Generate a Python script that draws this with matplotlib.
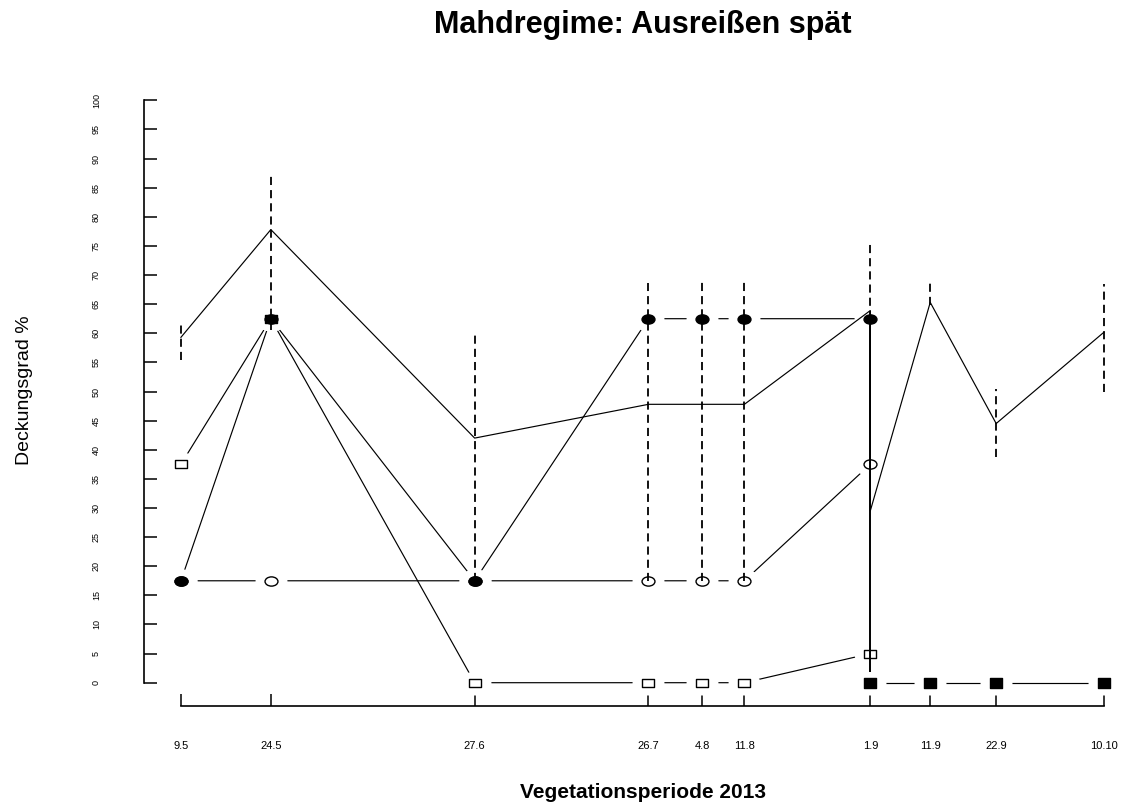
import numpy as np
import matplotlib
matplotlib.use("Agg")
import matplotlib.pyplot as plt
from matplotlib.path import Path
from matplotlib.transforms import Affine2D

plt.rcParams["font.family"] = ["Liberation Sans", "DejaVu Sans"]

# sampling dates (label) and day of year used as x position
date_labels = ["9.5", "24.5", "27.6", "26.7", "4.8", "11.8", "1.9", "11.9", "22.9", "10.10"]
doy = [129, 144, 178, 207, 216, 223, 244, 254, 265, 283]

# mean cover line (1.9 occurs twice in the data)
mean_x = [129, 144, 178, 207, 216, 223, 244, 244, 254, 265, 283]
mean_y = [59.3, 77.8, 42.0, 47.8, 47.8, 47.8, 63.9, 29.5, 65.3, 44.5, 60.2]

# dashed ranges per date
err_lo = [55.4, 60.5, 17.5, 17.5, 17.5, 17.5, 62.5, 64.8, 38.7, 49.9]
err_hi = [61.8, 87.7, 59.8, 68.6, 69.2, 69.2, 75.4, 68.8, 50.5, 68.5]
# solid range at 1.9
solid_x = 244
solid_lo, solid_hi = 1.8, 62.5

# single quadrats
plot_x = doy[:7]
open_circles = [17.5, 17.5, 17.5, 17.5, 17.5, 17.5, 37.5]
open_squares = [37.5, 62.5, 0, 0, 0, 0, 5]
filled_circles = [17.5, 62.5, 17.5, 62.5, 62.5, 62.5, 62.5]
late_x = doy[6:]
filled_squares = [0, 0, 0, 0]


def ellipse(aspect):
    return Path.unit_circle().transformed(Affine2D().scale(aspect, 1))


rect = Path([(-1.4, -1), (1.4, -1), (1.4, 1), (-1.4, 1), (-1.4, -1)], closed=True)
oval = ellipse(1.4)
halo = ellipse(1.33)

fig = plt.figure(figsize=(11.23, 8.05), dpi=100)
ax = fig.add_axes([144 / 1123, 99 / 805, 997 / 1123, 629 / 805])

pad = 0.04 * (doy[-1] - doy[0])
ax.set_xlim(doy[0] - pad, doy[-1] + pad)
ax.set_ylim(-4, 104)


def series(x, y, marker, ms, filled):
    # R type "b": lines stop short of the points
    ax.plot(x, y, color="black", lw=0.85, zorder=2)
    ax.plot(x, y, ls="none", marker=halo, ms=23, mfc="white", mec="none", zorder=3)
    ax.plot(x, y, ls="none", marker=marker, ms=ms,
            mfc="black" if filled else "none", mec="black", mew=1.0, zorder=5)


series(plot_x, open_circles, oval, 9.3, False)
series(plot_x, open_squares, rect, 8.8, False)
series(plot_x, filled_circles, oval, 9.3, True)
series(late_x, filled_squares, rect, 9.2, True)

ax.plot(mean_x, mean_y, color="black", lw=0.85, zorder=4)
ax.vlines(doy, err_lo, err_hi, colors="black", lw=1.3, linestyles=(0, (4.5, 2.8)), zorder=4)
ax.vlines(solid_x, solid_lo, solid_hi, colors="black", lw=1.4, zorder=4)

for s in ["top", "right"]:
    ax.spines[s].set_visible(False)
ax.spines["left"].set_bounds(0, 100)
ax.spines["bottom"].set_bounds(doy[0], doy[-1])
ax.spines["left"].set_linewidth(1.2)
ax.spines["bottom"].set_linewidth(1.2)

ax.set_xticks(doy)
ax.set_xticklabels(date_labels, fontsize=8)
yt = np.arange(0, 101, 5)
ax.set_yticks(yt)
ax.set_yticklabels([str(v) for v in yt], rotation=90, va="center", fontsize=6.5)
ax.tick_params(axis="both", direction="in", length=9, width=1.1)
ax.tick_params(axis="x", pad=25)
ax.tick_params(axis="y", pad=31)

fig.text(643 / 1123, 1 - 25 / 805, "Mahdregime: Ausreißen spät",
         fontsize=22, fontweight="bold", ha="center", va="center")
fig.text(643 / 1123, 1 - 792 / 805, "Vegetationsperiode 2013",
         fontsize=15, fontweight="bold", ha="center", va="center")
fig.text(25 / 1123, 1 - 390 / 805, "Deckungsgrad %",
         fontsize=14, rotation=90, ha="center", va="center")

fig.savefig("out.png", dpi=100)
